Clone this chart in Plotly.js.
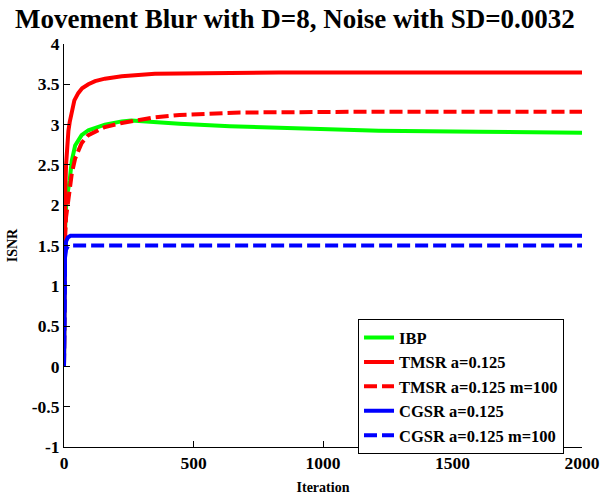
<!DOCTYPE html>
<html>
<head>
<meta charset="utf-8">
<script src="https://cdn.plot.ly/plotly-3.0.1.min.js"></script>
<style>html,body{margin:0;padding:0;background:#fff;}#chart{width:602px;height:495px;}</style>
</head>
<body>
<div id="chart"></div>
<script>
// Iterations and ISNR values
const ibpIter   = [0, 3, 9, 17, 22, 30, 43, 68, 94, 158, 223, 260, 300, 446, 640, 830, 1215, 1600, 2000];
const ibpIsnr   = [0, 1.6, 2.06, 2.22, 2.31, 2.55, 2.74, 2.87, 2.93, 3.0, 3.04, 3.05, 3.04, 3.01, 2.98, 2.96, 2.925, 2.91, 2.90];

const tmsrIter  = [0, 2, 5, 8, 12, 17, 22, 30, 40, 55, 70, 94, 120, 158, 223, 351, 800, 830, 2000];
const tmsrIsnr  = [0, 1.5, 2.2, 2.5, 2.75, 2.92, 3.03, 3.18, 3.3, 3.39, 3.45, 3.5, 3.54, 3.57, 3.6, 3.63, 3.64, 3.645, 3.645];

const tmsrMIter = [0, 3, 8, 17, 30, 43, 68, 94, 158, 223, 287, 351, 446, 680, 1200, 2000];
const tmsrMIsnr = [0, 1.5, 1.85, 2.06, 2.39, 2.58, 2.77, 2.87, 2.97, 3.02, 3.05, 3.09, 3.12, 3.15, 3.16, 3.16];

const cgsrIter  = [0, 1, 2, 4, 8, 15, 25, 2000];
const cgsrIsnr  = [0, 0.5, 1.0, 1.4, 1.55, 1.6, 1.62, 1.62];

const cgsrMIter = [0, 1, 2, 4, 8, 15, 25, 2000];
const cgsrMIsnr = [0, 0.5, 1.0, 1.35, 1.45, 1.49, 1.5, 1.5];

const names = ['IBP', 'TMSR a=0.125', 'TMSR a=0.125 m=100', 'CGSR a=0.125', 'CGSR a=0.125 m=100'];
const xTicks = [0, 500, 1000, 1500, 2000];
const yTicks = [-1, -0.5, 0, 0.5, 1, 1.5, 2, 2.5, 3, 3.5, 4];

const FONT = 'Liberation Serif, Times New Roman, serif';
const W = 4;
const DASH = '13px,5px';

const traces = [
  {x: ibpIter, y: ibpIsnr, name: names[0], line: {color: '#00ff00', width: W}},
  {x: tmsrIter, y: tmsrIsnr, name: names[1], line: {color: '#ff0000', width: W}},
  {x: tmsrMIter, y: tmsrMIsnr, name: names[2], line: {color: '#ff0000', width: W, dash: DASH}},
  {x: cgsrIter, y: cgsrIsnr, name: names[3], line: {color: '#0000ff', width: W}},
  {x: cgsrMIter, y: cgsrMIsnr, name: names[4], line: {color: '#0000ff', width: W, dash: DASH}}
].map(t => Object.assign({type: 'scatter', mode: 'lines'}, t));

const layout = {
  width: 602, height: 495,
  margin: {l: 64, r: 20, t: 44, b: 48},
  paper_bgcolor: '#fff', plot_bgcolor: '#fff',
  font: {family: FONT, color: '#000', size: 17, weight: 'bold'},
  title: {text: 'Movement Blur with D=8, Noise with SD=0.0032',
          font: {family: FONT, size: 27, color: '#000', weight: 'bold'},
          x: 0.49, xanchor: 'center', y: 0.962, yanchor: 'middle'},
  xaxis: {range: [0, 2000], tickvals: xTicks, ticktext: xTicks.map(String),
          showline: true, linecolor: '#000', linewidth: 1, mirror: false,
          ticks: 'inside', ticklen: 6, tickcolor: '#000', showgrid: false, zeroline: false,
          tickfont: {family: FONT, size: 17.5, color: '#000', weight: 'bold'},
          title: {text: 'Iteration', font: {family: FONT, size: 14, color: '#000', weight: 'bold'}, standoff: 10}},
  yaxis: {range: [-1, 4], tickvals: yTicks, ticktext: yTicks.map(String),
          showline: true, linecolor: '#000', linewidth: 1, mirror: false,
          ticks: 'inside', ticklen: 6, tickcolor: '#000', showgrid: false, zeroline: false,
          tickfont: {family: FONT, size: 17.5, color: '#000', weight: 'bold'},
          title: {text: 'ISNR', font: {family: FONT, size: 14, color: '#000', weight: 'bold'}, standoff: 10}},
  showlegend: true,
  legend: {x: 0.5676, y: 0.317, xanchor: 'left', yanchor: 'top',
           bgcolor: '#fff', bordercolor: '#000', borderwidth: 1,
           font: {family: FONT, size: 16.5, color: '#000', weight: 'bold'},
           tracegroupgap: 0}
};

Plotly.newPlot('chart', traces, layout, {displayModeBar: false, staticPlot: true});
</script>
</body>
</html>
